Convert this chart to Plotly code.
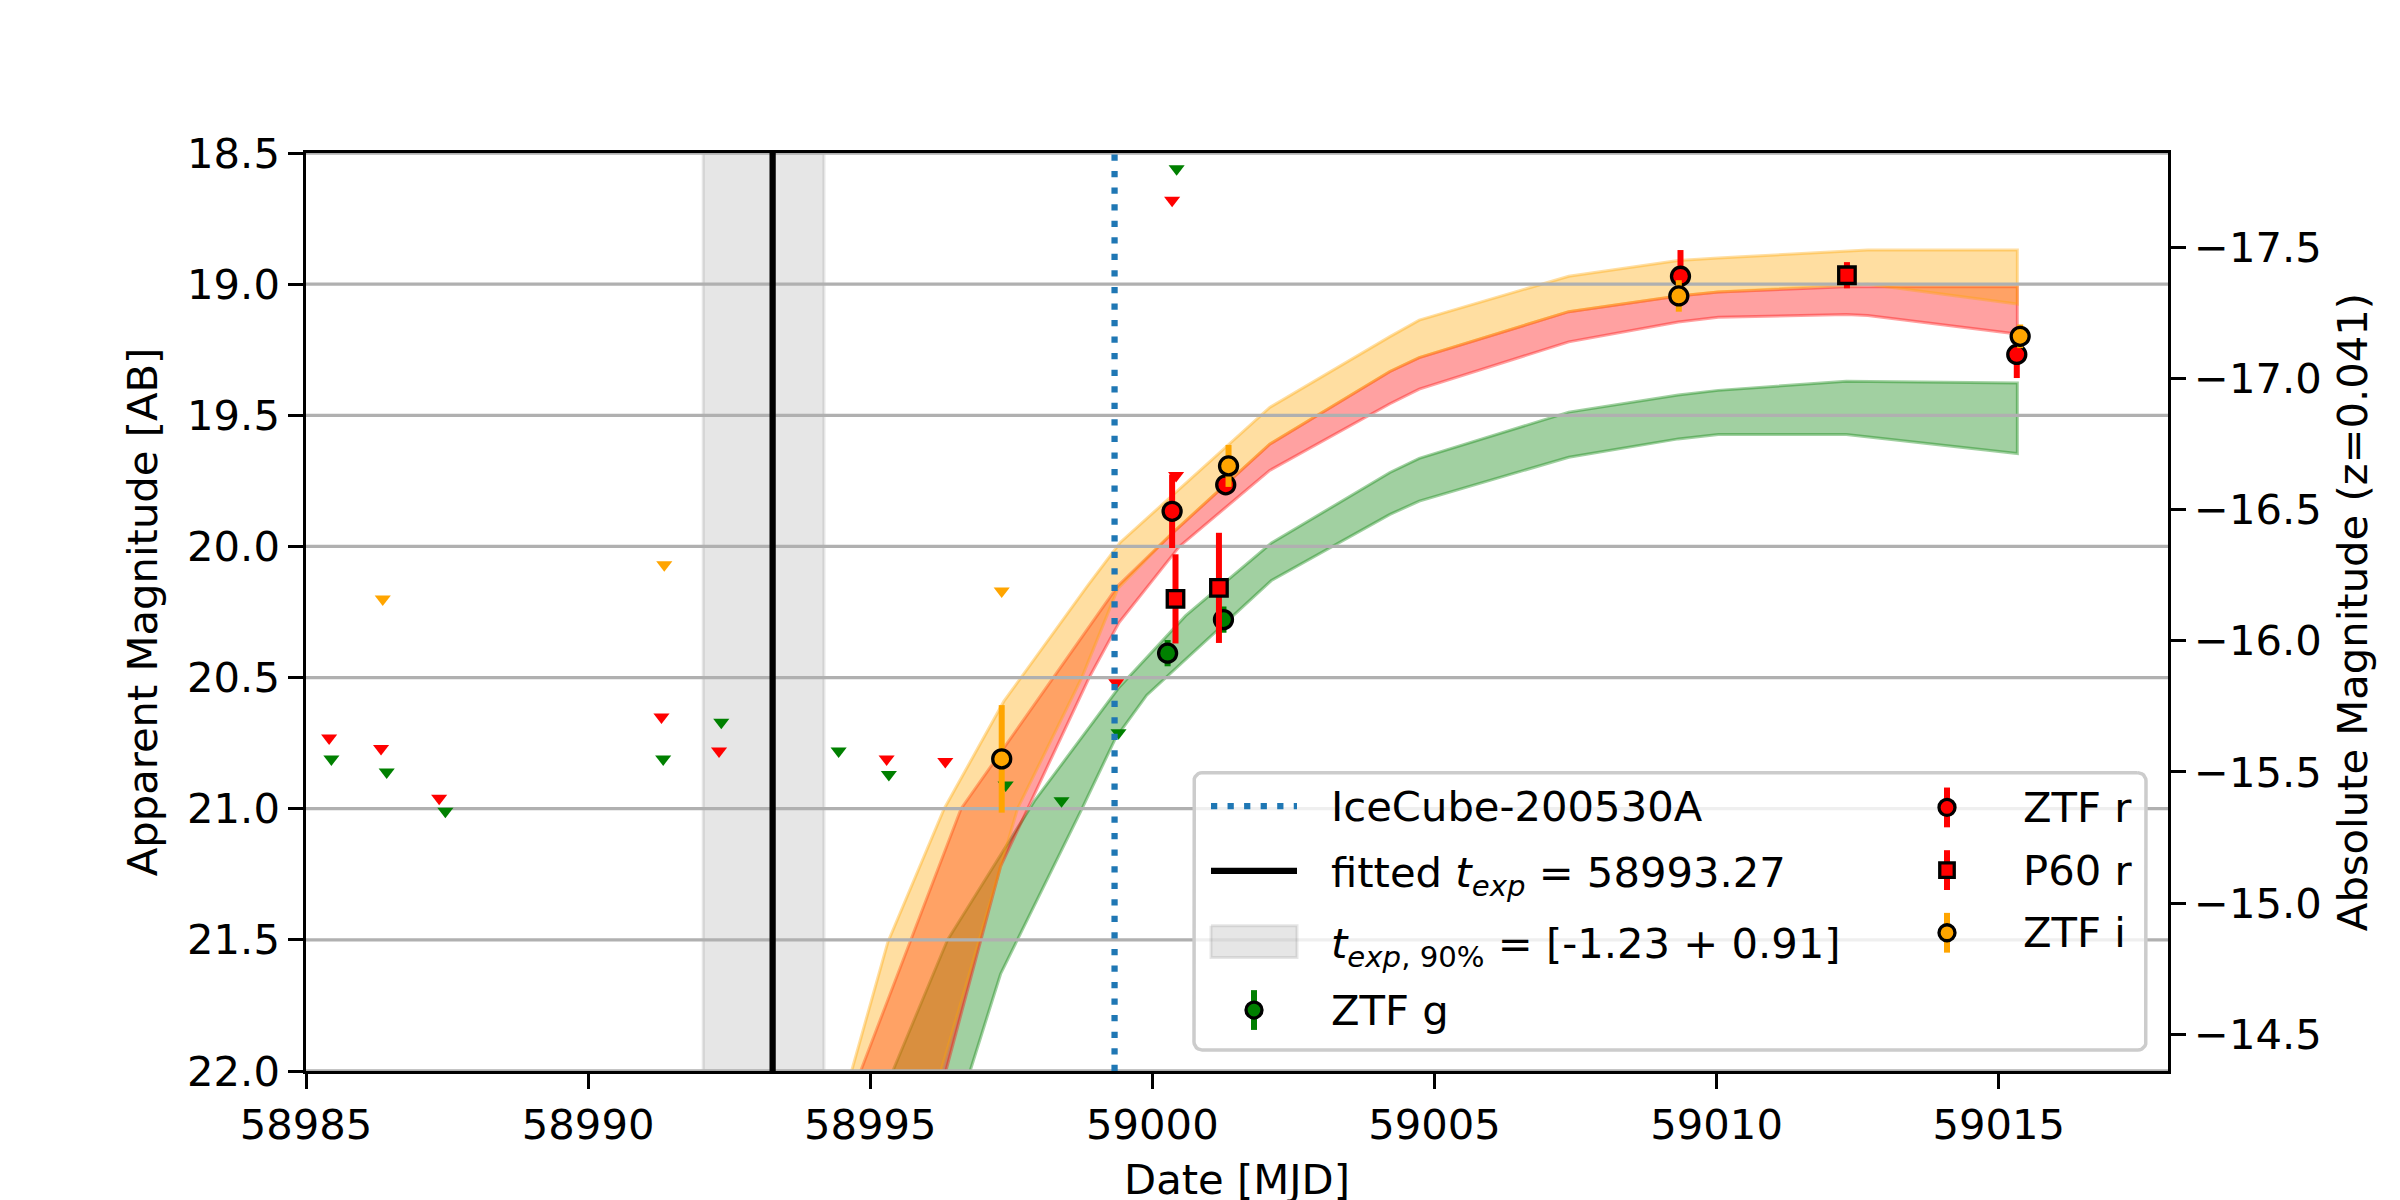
import math
import plotly.graph_objects as go

# ---------------- data ----------------
X_RANGE = [58985, 59018]
Y_RANGE = [22.0, 18.5]
X_TICKS = [58985, 58990, 58995, 59000, 59005, 59010, 59015]
Y_TICKS = [18.5, 19.0, 19.5, 20.0, 20.5, 21.0, 21.5, 22.0]
ABS_TICKS = [-17.5, -17.0, -16.5, -16.0, -15.5, -15.0, -14.5]
DIST_MOD = 36.36

ICECUBE_T = 58999.33
T_EXP = 58993.27
T_EXP_LO = -1.23
T_EXP_HI = 0.91

# model bands (edges)
I_UPPER_T = [58994.30, 58994.67, 58995.31, 58996.31, 58997.37, 58998.85, 58999.43, 59002.08, 59004.21, 59004.73, 59007.38, 59009.32, 59010.03, 59012.68, 59015.33]
I_UPPER_MAG = [22.26, 22.00, 21.51, 21.00, 20.59, 20.15, 19.985, 19.47, 19.20, 19.137, 18.97, 18.91, 18.90, 18.87, 18.87]
I_LOWER_T = [58995.90, 58996.25, 58997.61, 58998.75, 58999.39, 59000.35, 59002.08, 59004.21, 59004.73, 59007.38, 59009.32, 59010.03, 59012.68, 59015.33]
I_LOWER_MAG = [22.26, 22.00, 21.00, 20.50, 20.16, 19.95, 19.61, 19.333, 19.28, 19.105, 19.045, 19.03, 19.00, 19.076]

R_UPPER_T = [58994.50, 58994.83, 58996.61, 58998.40, 58999.39, 59000.35, 59002.08, 59004.21, 59004.73, 59007.38, 59009.32, 59010.03, 59012.30, 59015.33]
R_UPPER_MAG = [22.19, 22.00, 21.00, 20.45, 20.15, 19.95, 19.61, 19.333, 19.28, 19.105, 19.045, 19.03, 19.01, 19.01]
R_LOWER_T = [58996.00, 58996.34, 58997.31, 58997.79, 58998.88, 58999.41, 59000.48, 59002.08, 59004.21, 59004.73, 59007.38, 59009.32, 59010.03, 59012.30, 59012.68, 59015.33]
R_LOWER_MAG = [22.27, 22.00, 21.22, 21.00, 20.50, 20.29, 20.00, 19.71, 19.456, 19.40, 19.22, 19.144, 19.126, 19.116, 19.12, 19.19]

G_UPPER_T = [58995.00, 58995.40, 58996.37, 58997.91, 58999.40, 59000.59, 59002.11, 59004.21, 59004.73, 59007.38, 59009.32, 59010.03, 59012.30, 59015.33]
G_UPPER_MAG = [22.21, 22.00, 21.50, 20.97, 20.54, 20.264, 19.987, 19.718, 19.664, 19.488, 19.423, 19.405, 19.37, 19.377]
G_LOWER_T = [58996.50, 58996.77, 58997.31, 58998.73, 58999.35, 58999.90, 59002.11, 59004.21, 59004.73, 59007.38, 59009.32, 59010.03, 59012.30, 59015.33]
G_LOWER_MAG = [22.20, 22.00, 21.63, 21.01, 20.73, 20.567, 20.13, 19.878, 19.827, 19.66, 19.59, 19.573, 19.573, 19.646]

# upper limits
R_LIM_T = [58985.41, 58986.33, 58987.36, 58991.30, 58992.32, 58995.29, 58996.33, 58999.36, 59000.35, 59000.42]
R_LIM_MAG = [20.73, 20.77, 20.96, 20.65, 20.78, 20.81, 20.82, 20.52, 18.68, 19.73]
G_LIM_T = [58985.45, 58986.43, 58987.47, 58991.33, 58992.36, 58994.44, 58995.33, 58997.40, 58998.39, 58999.40, 59000.43]
G_LIM_MAG = [20.81, 20.86, 21.01, 20.81, 20.67, 20.78, 20.87, 20.91, 20.97, 20.71, 18.56]
I_LIM_T = [58986.36, 58991.35, 58997.33]
I_LIM_MAG = [20.20, 20.07, 20.17]

# detections
ZTF_G_T = [59000.27, 59001.26]
ZTF_G_MAG = [20.407, 20.279]
ZTF_G_ERR = [0.05, 0.05]
ZTF_R_T = [59000.35, 59001.30, 59009.36, 59015.32]
ZTF_R_MAG = [19.866, 19.765, 18.97, 19.268]
ZTF_R_ERR = [0.14, 0.03, 0.10, 0.09]
P60_R_T = [59000.41, 59001.18, 59012.31]
P60_R_MAG = [20.20, 20.158, 18.966]
P60_R_ERR = [0.17, 0.21, 0.05]
ZTF_I_T = [58997.33, 59001.35, 59009.33, 59015.38]
ZTF_I_MAG = [20.81, 19.693, 19.045, 19.199]
ZTF_I_ERR = [0.205, 0.08, 0.06, 0.045]

LEGEND_LABELS = [
    "IceCube-200530A",
    "fitted <i>t</i><sub><i>exp</i></sub> = " + ("%.2f" % T_EXP),
    "<i>t</i><sub><i>exp</i>, 90%</sub> = [" + ("%.2f" % T_EXP_LO) + " + " + ("%.2f" % T_EXP_HI) + "]",
    "ZTF g",
    "ZTF r",
    "P60 r",
    "ZTF i",
]

# ---------------- layout constants ----------------
W, H = 2400, 1200
ML, MR, MT, MB = 298, 240, 145, 132
PW, PH = W - ML - MR, H - MT - MB
FONT = "DejaVu Sans"
FS = 41.7
A = 0.37
CIRCLE_SIZE = 18
SQUARE_SIZE = 16.5
LIMIT_SIZE = 14
EDGE_W = 3.3
BAR_W = 6


def xp(px):
    return (px - ML) / PW


def yp(py):
    return 1 - (py - MT) / PH


def rgba(rgb, a):
    return "rgba(%d,%d,%d,%.3f)" % (rgb[0], rgb[1], rgb[2], a)


GREEN = (0, 128, 0)
RED = (255, 0, 0)
ORANGE = (255, 165, 0)
BLUE = "#1f77b4"
DOTS = "6.25px,10.3px"

fig = go.Figure()


def band(ut, um, lt, lm, rgb):
    xs = list(ut) + list(reversed(lt)) + [ut[0]]
    ys = list(um) + list(reversed(lm)) + [um[0]]
    fig.add_trace(go.Scatter(
        x=xs, y=ys, mode="lines", fill="toself",
        fillcolor=rgba(rgb, A), line=dict(color=rgba(rgb, A), width=3),
        showlegend=False, hoverinfo="skip"))


band(G_UPPER_T, G_UPPER_MAG, G_LOWER_T, G_LOWER_MAG, GREEN)
band(R_UPPER_T, R_UPPER_MAG, R_LOWER_T, R_LOWER_MAG, RED)
band(I_UPPER_T, I_UPPER_MAG, I_LOWER_T, I_LOWER_MAG, ORANGE)

# t_exp 90% span
lo, hi = T_EXP + T_EXP_LO, T_EXP + T_EXP_HI
SPAN_FILL = "rgba(128,128,128,0.2)"
fig.add_trace(go.Scatter(
    x=[lo, hi, hi, lo, lo], y=[Y_RANGE[0], Y_RANGE[0], Y_RANGE[1], Y_RANGE[1], Y_RANGE[0]],
    mode="lines", fill="toself", fillcolor=SPAN_FILL, line=dict(color=SPAN_FILL, width=3),
    showlegend=False, hoverinfo="skip"))

# grid lines
gx, gy = [], []
for t in Y_TICKS:
    gx += [X_RANGE[0], X_RANGE[1], None]
    gy += [t, t, None]
fig.add_trace(go.Scatter(x=gx, y=gy, mode="lines", line=dict(color="#b0b0b0", width=3.3),
                         showlegend=False, hoverinfo="skip"))

# upper limits
for t, m, rgb in [(R_LIM_T, R_LIM_MAG, RED), (G_LIM_T, G_LIM_MAG, GREEN), (I_LIM_T, I_LIM_MAG, ORANGE)]:
    fig.add_trace(go.Scatter(x=t, y=m, mode="markers",
                             marker=dict(symbol="triangle-down", size=LIMIT_SIZE, color=rgba(rgb, 1), line=dict(width=0)),
                             showlegend=False, hoverinfo="skip"))

# vertical lines
fig.add_trace(go.Scatter(x=[ICECUBE_T, ICECUBE_T], y=Y_RANGE, mode="lines",
                         line=dict(color=BLUE, width=6.25, dash=DOTS),
                         name=LEGEND_LABELS[0], showlegend=False, hoverinfo="skip"))
fig.add_trace(go.Scatter(x=[T_EXP, T_EXP], y=Y_RANGE, mode="lines",
                         line=dict(color="black", width=6.25),
                         name=LEGEND_LABELS[1], showlegend=False, hoverinfo="skip"))


def det(t, m, e, rgb, sym, size, name, xaxis="x", yaxis="y"):
    fig.add_trace(go.Scatter(
        x=t, y=m, mode="markers", name=name, showlegend=False, xaxis=xaxis, yaxis=yaxis,
        marker=dict(symbol=sym, size=size, color=rgba(rgb, 1), line=dict(color="black", width=EDGE_W)),
        error_y=dict(type="data", array=e, color=rgba(rgb, 1), thickness=BAR_W, width=0),
        hoverinfo="skip"))


det(ZTF_G_T, ZTF_G_MAG, ZTF_G_ERR, GREEN, "circle", CIRCLE_SIZE, LEGEND_LABELS[3])
det(ZTF_R_T, ZTF_R_MAG, ZTF_R_ERR, RED, "circle", CIRCLE_SIZE, LEGEND_LABELS[4])
det(P60_R_T, P60_R_MAG, P60_R_ERR, RED, "square", SQUARE_SIZE, LEGEND_LABELS[5])
det(ZTF_I_T, ZTF_I_MAG, ZTF_I_ERR, ORANGE, "circle", CIRCLE_SIZE, LEGEND_LABELS[6])

# dummy for secondary axis
fig.add_trace(go.Scatter(x=[None], y=[None], yaxis="y2", showlegend=False, hoverinfo="skip"))

# ---------------- legend (drawn on a pixel-unit overlay axis) ----------------
LX0, LX1, LY0, LY1, LR = 1186, 2138, 768, 1047, 8.3
fx, fy = [], []
for cx, cy, a0 in [(LX1 - LR, LY0 + LR, -90), (LX1 - LR, LY1 - LR, 0), (LX0 + LR, LY1 - LR, 90), (LX0 + LR, LY0 + LR, 180)]:
    for k in range(7):
        ang = math.radians(a0 + 15 * k)
        fx.append(cx + LR * math.cos(ang))
        fy.append(cy + LR * math.sin(ang))
fx.append(fx[0])
fy.append(fy[0])
fig.add_trace(go.Scatter(x=fx, y=fy, xaxis="x3", yaxis="y3", mode="lines", fill="toself",
                         fillcolor="rgba(255,255,255,0.8)", line=dict(color="#cccccc", width=3.5),
                         showlegend=False, hoverinfo="skip"))

H1X0, H1X1 = 1203, 1289
ROW_Y = [801.7, 866.7, 938.0, 1006.7]
ROW2_Y = [803.0, 866.0, 929.0]
H2X = 1939
TEXT1_X, TEXT2_X = 1321, 2013

fig.add_trace(go.Scatter(x=[H1X0, H1X1], y=[ROW_Y[0]] * 2, xaxis="x3", yaxis="y3", mode="lines",
                         line=dict(color=BLUE, width=6.25, dash=DOTS), showlegend=False, hoverinfo="skip"))
fig.add_trace(go.Scatter(x=[H1X0, H1X1], y=[ROW_Y[1]] * 2, xaxis="x3", yaxis="y3", mode="lines",
                         line=dict(color="black", width=6.25), showlegend=False, hoverinfo="skip"))
fig.add_trace(go.Scatter(x=[H1X0, H1X1, H1X1, H1X0, H1X0],
                         y=[ROW_Y[2] - 16, ROW_Y[2] - 16, ROW_Y[2] + 16, ROW_Y[2] + 16, ROW_Y[2] - 16],
                         xaxis="x3", yaxis="y3", mode="lines", fill="toself", fillcolor=SPAN_FILL,
                         line=dict(color=SPAN_FILL, width=3), showlegend=False, hoverinfo="skip"))
HM = (H1X0 + H1X1) / 2
det([HM], [ROW_Y[3]], [20], GREEN, "circle", CIRCLE_SIZE - 2, LEGEND_LABELS[3], "x3", "y3")
det([H2X], [ROW2_Y[0]], [20], RED, "circle", CIRCLE_SIZE - 2, LEGEND_LABELS[4], "x3", "y3")
det([H2X], [ROW2_Y[1]], [20], RED, "square", SQUARE_SIZE - 2, LEGEND_LABELS[5], "x3", "y3")
det([H2X], [ROW2_Y[2]], [20], ORANGE, "circle", CIRCLE_SIZE - 2, LEGEND_LABELS[6], "x3", "y3")

annotations = []
for i, lab in enumerate(LEGEND_LABELS):
    if i < 4:
        x, y = TEXT1_X, ROW_Y[i]
    else:
        x, y = TEXT2_X, ROW2_Y[i - 4]
    if "<sub>" in lab:
        y += 5
    annotations.append(dict(text=lab, x=xp(x), y=yp(y), xref="paper", yref="paper",
                            xanchor="left", yanchor="middle", showarrow=False,
                            font=dict(family=FONT, size=FS, color="black")))

axis_common = dict(showline=True, linecolor="black", linewidth=3.3, ticks="outside",
                   ticklen=14.6, tickwidth=3.3, tickcolor="black", showgrid=False, zeroline=False,
                   tickfont=dict(family=FONT, size=FS, color="black"))

fig.update_layout(
    width=W, height=H, margin=dict(l=ML, r=MR, t=MT, b=MB),
    paper_bgcolor="white", plot_bgcolor="white", showlegend=False,
    font=dict(family=FONT, size=FS, color="black"),
    xaxis=dict(range=X_RANGE, tickvals=X_TICKS, ticktext=[str(v) for v in X_TICKS], mirror=True,
               title=dict(text="Date [MJD]", font=dict(family=FONT, size=FS), standoff=18),
               **axis_common),
    yaxis=dict(range=Y_RANGE, tickvals=Y_TICKS, ticktext=["%.1f" % v for v in Y_TICKS],
               title=dict(text="Apparent Magnitude [AB]", font=dict(family=FONT, size=FS), standoff=17),
               **axis_common),
    yaxis2=dict(range=[Y_RANGE[0] - DIST_MOD, Y_RANGE[1] - DIST_MOD], overlaying="y", side="right",
                tickvals=ABS_TICKS, ticktext=[("%.1f" % v).replace("-", "\u2212") for v in ABS_TICKS],
                title=dict(text="Absolute Magnitude (z=0.041)", font=dict(family=FONT, size=FS), standoff=17),
                **axis_common),
    xaxis3=dict(range=[ML, W - MR], overlaying="x", anchor="y3", visible=False, fixedrange=True),
    yaxis3=dict(range=[H - MB, MT], overlaying="y", anchor="x3", visible=False, fixedrange=True),
    annotations=annotations,
)

fig.write_html("out.html")
